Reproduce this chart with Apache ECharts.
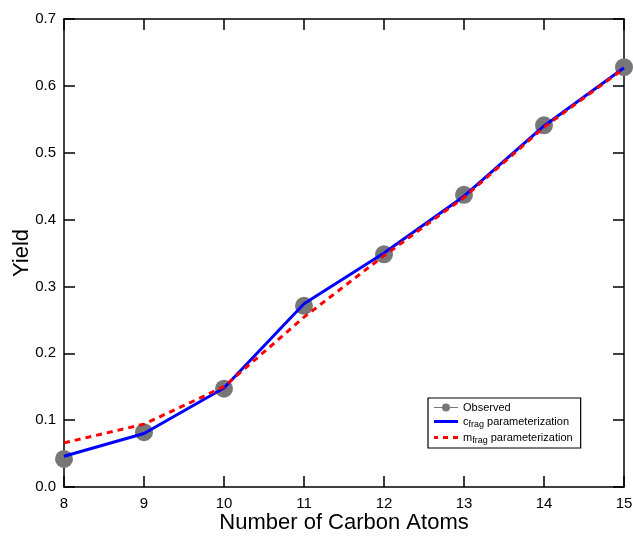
<!DOCTYPE html>
<html><head><meta charset="utf-8">
<script src="https://cdn.jsdelivr.net/npm/echarts@6/dist/echarts.min.js"></script>
<style>html,body{margin:0;padding:0;background:#fff}#c{width:633px;height:538px}</style>
</head><body><div id="c"></div>
<script>
const carbonAtoms = [8, 9, 10, 11, 12, 13, 14, 15];
const observed = [0.042, 0.082, 0.147, 0.271, 0.348, 0.437, 0.541, 0.628];
const cFrag = [0.046, 0.080, 0.148, 0.274, 0.350, 0.435, 0.540, 0.627];
const mFrag = [0.066, 0.094, 0.150, 0.254, 0.346, 0.433, 0.538, 0.626];
const yTicks = [0.0, 0.1, 0.2, 0.3, 0.4, 0.5, 0.6, 0.7];

const pair = (xs, ys) => xs.map((x, i) => [x, ys[i]]);
const font = 'Liberation Sans, Arial, sans-serif';
const chart = echarts.init(document.getElementById('c'), null, {renderer: 'canvas'});
const tickInside = {show: true, inside: true, length: 11, lineStyle: {color: '#000', width: 1.5}};
const axisLine = {show: true, onZero: false, lineStyle: {color: '#000', width: 1.5}};
chart.setOption({
  animation: false,
  backgroundColor: '#fff',
  grid: {left: 64, right: 9, top: 19, bottom: 51, containLabel: false, outerBoundsMode: 'none'},
  xAxis: [{
    type: 'value', min: 8, max: 15, interval: 1,
    axisLine, axisTick: tickInside, splitLine: {show: false},
    axisLabel: {color: '#000', fontSize: 15, fontFamily: font, margin: 9},
    name: 'Number of Carbon Atoms', nameLocation: 'middle', nameGap: 25, nameMoveOverlap: false,
    nameTextStyle: {color: '#000', fontSize: 22, fontFamily: font}
  }, {
    type: 'value', position: 'top', min: 8, max: 15, interval: 1,
    axisLine, axisTick: tickInside, splitLine: {show: false}, axisLabel: {show: false}
  }],
  yAxis: [{
    type: 'value', min: 0, max: 0.7, interval: 0.1,
    axisLine, axisTick: tickInside, splitLine: {show: false},
    axisLabel: {color: '#000', fontSize: 15, fontFamily: font, margin: 8,
      formatter: v => v.toFixed(1)},
    name: 'Yield', nameLocation: 'middle', nameGap: 31, nameMoveOverlap: false,
    nameTextStyle: {color: '#000', fontSize: 22, fontFamily: font}
  }, {
    type: 'value', position: 'right', min: 0, max: 0.7, interval: 0.1,
    axisLine, axisTick: tickInside, splitLine: {show: false}, axisLabel: {show: false}
  }],
  legend: {
    orient: 'vertical', left: 428, top: 398,
    borderColor: '#000', borderWidth: 1.2, padding: [4, 8, 3, 6],
    itemGap: 3, itemWidth: 24, itemHeight: 11,
    textStyle: {fontSize: 11, fontFamily: font, color: '#000',
      rich: {sub: {fontSize: 9, fontFamily: font, color: '#000', verticalAlign: 'bottom', padding: [6, 0, 0, 0]},
             n: {fontSize: 11, fontFamily: font, color: '#000'}}},
    formatter: name => {
      if (name === 'cfrag') return '{n|c}{sub|frag}{n| parameterization}';
      if (name === 'mfrag') return '{n|m}{sub|frag}{n| parameterization}';
      return '{n|Observed}';
    },
    data: [
      {name: 'Observed', icon: 'path://M0,5 H8 V6 H0 Z M16,5 H24 V6 H16 Z M12,1.5 A4,4 0 1 1 11.99,1.5 Z', itemStyle: {color: '#777'}},
      {name: 'cfrag', icon: 'path://M0,4 H24 V7 H0 Z', itemStyle: {color: '#0000ff'}},
      {name: 'mfrag', icon: 'path://M0,4 H4 V7 H0 Z M9,4 H14 V7 H9 Z M19,4 H24 V7 H19 Z', itemStyle: {color: '#ff0000'}}
    ]
  },
  series: [
    {name: 'Observed', type: 'scatter', data: pair(carbonAtoms, observed),
     symbol: 'circle', symbolSize: 18, itemStyle: {color: '#777', opacity: 1}, z: 1},
    {name: 'cfrag', type: 'line', data: pair(carbonAtoms, cFrag), symbol: 'none',
     lineStyle: {color: '#0000ff', width: 3}, itemStyle: {color: '#0000ff'}, z: 2},
    {name: 'mfrag', type: 'line', data: pair(carbonAtoms, mFrag), symbol: 'none',
     lineStyle: {color: '#ff0000', width: 3, type: [6, 5]}, itemStyle: {color: '#ff0000'}, z: 3}
  ]
});
</script></body></html>
